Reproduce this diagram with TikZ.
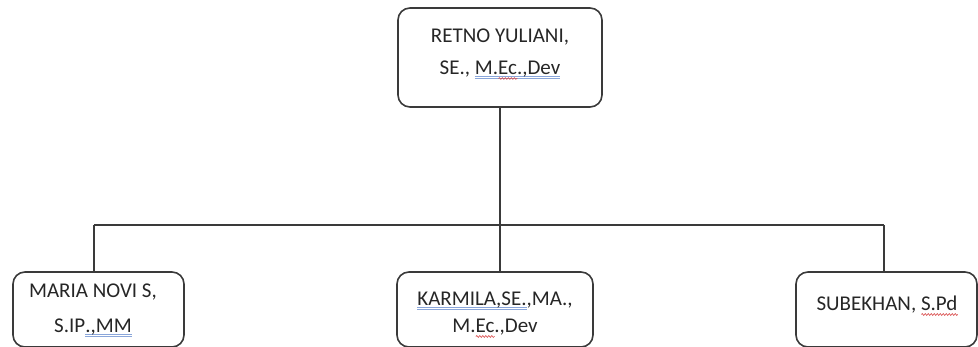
\documentclass[tikz,border=0pt]{standalone}
\usepackage{fontspec}
\setmainfont{Carlito}
\usetikzlibrary{decorations.pathmorphing}
\definecolor{txt}{HTML}{262626}
\definecolor{ln}{HTML}{3A3A3A}
\definecolor{ulblue}{HTML}{8AA6DA}
\definecolor{ulred}{HTML}{D84848}
\newcommand\bul[1]{\setbox0\hbox{#1}\rlap{\textcolor{ulblue}{\rule[-3pt]{\wd0}{0.6pt}}}\rlap{\textcolor{ulblue}{\rule[-5pt]{\wd0}{0.6pt}}}\box0}
\newcommand\wav[1]{\setbox2\hbox{#1}\rlap{\tikz[baseline=0pt]\draw[ulred,line width=0.6pt,decorate,decoration={snake,amplitude=0.9pt,segment length=3pt}] (0pt,-4.5pt)--(\wd2,-4.5pt);}\box2}
\begin{document}
\begin{tikzpicture}[x=1pt,y=-1pt,
  box/.style={draw=ln,line width=1.6pt,rounded corners=12pt,inner sep=0pt},
  conn/.style={draw=ln,line width=1.2pt},
  lbl/.style={text=txt,font=\fontsize{21}{21}\selectfont,anchor=base,inner sep=0pt}]
\useasboundingbox (0,0) rectangle (978,346);
\node[box,minimum width=204pt,minimum height=99pt] (top) at (500,57.5) {};
\node[box,minimum width=171pt,minimum height=75pt] (left) at (98.5,309.5) {};
\node[box,minimum width=196pt,minimum height=75pt] (mid) at (495,309.5) {};
\node[box,minimum width=181pt,minimum height=75pt] (right) at (886.5,309.5) {};
\node[lbl] (t1) at (500,42) {RETNO YULIANI,};
\node[lbl] (t2) at (500,74) {SE., \bul{M.\wav{Ec}.,Dev}};
\node[lbl] (l1) at (93,297) {MARIA NOVI S,};
\node[lbl] (l2) at (93,332) {S.IP\bul{.,MM}};
\node[lbl] (m1) at (495,305) {\bul{KARMILA,SE.},MA.,};
\node[lbl] (m2) at (495,332) {M.\wav{Ec}.,Dev};
\node[lbl] (r1) at (887,310) {SUBEKHAN, \wav{S.Pd}};
\coordinate (bus) at (500,225);
\coordinate (bl) at (94,225);
\coordinate (br) at (884,225);
\draw[conn] (top.south) -- (bus);
\draw[conn] (bl) -- (br);
\draw[conn] (bl) -- (bl |- left.north);
\draw[conn] (bus) -- (bus |- mid.north);
\draw[conn] (br) -- (br |- right.north);
\end{tikzpicture}
\end{document}
